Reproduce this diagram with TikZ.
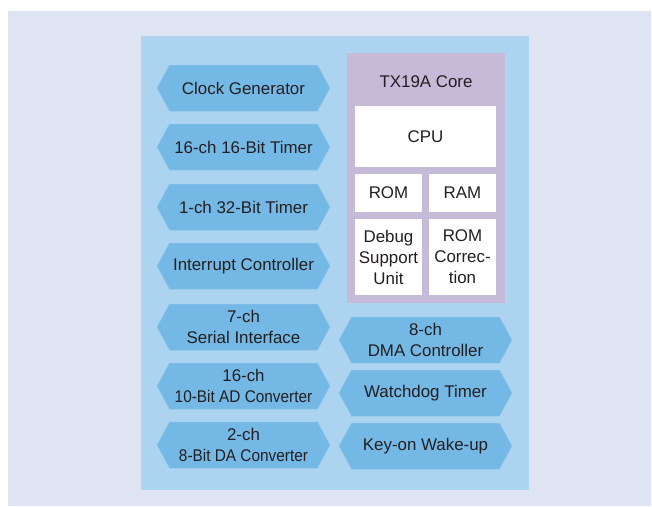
\documentclass[tikz,border=0pt]{standalone}
\usepackage{fontspec}
\setmainfont{Liberation Sans}
\usetikzlibrary{shapes.symbols,positioning}
\definecolor{fondo}{HTML}{DFE4F2}
\definecolor{panel}{HTML}{ACD4F0}
\definecolor{hexazul}{HTML}{74B8E5}
\definecolor{nucleo}{HTML}{C6BAD9}
\definecolor{texto}{HTML}{231F20}
\newcommand\etiq{\fontsize{16.9}{21}\selectfont}
\newcommand\apretado[1]{\scalebox{0.91}[1]{#1}}
\tikzset{
  bloque/.style={shape=signal,signal from=nowhere,signal to=east and west,signal pointer angle=123,
    fill=hexazul,draw=hexazul!80!white,line width=0.5pt,minimum width=173pt,minimum height=46pt,
    inner sep=0pt,align=center,font=\etiq,text=texto},
  caja/.style={fill=white,inner sep=0pt,align=center,font=\etiq,text=texto},
}

\begin{document}
\begin{tikzpicture}[x=1pt,y=-1pt]
  \useasboundingbox (0,0) rectangle (652,506);
  \fill[fondo] (8,11) rectangle (651,506);
  \fill[panel] (141,36) rectangle (529,490);
  % columna izquierda
  \node[bloque] (clk) at (243.5,88) {Clock Generator};
  \node[bloque] (tim16) at (243.5,147) {16-ch 16-Bit Timer};
  \node[bloque] (tim32) at (243.5,207) {1-ch 32-Bit Timer};
  \node[bloque] (intc) at (243.5,266) {Interrupt Controller};
  \node[bloque] (sio) at (243.5,327) {7-ch\\Serial Interface};
  \node[bloque] (adc) at (243.5,386) {16-ch\\\apretado{10-Bit AD Converter}};
  \node[bloque] (dac) at (243.5,445) {2-ch\\\apretado{8-Bit DA Converter}};
  % nucleo
  \node[fill=nucleo,minimum width=158pt,minimum height=250pt,inner sep=0pt] (core) at (426,178) {};
  \node[font=\etiq,text=texto] (titulo) at (426,82) {TX19A Core};
  \node[caja,minimum width=141pt,minimum height=61pt] (cpu) at (425.5,136.5) {CPU};
  \node[caja,minimum width=67pt,minimum height=38pt] (rom) at (388.5,193) {ROM};
  \node[caja,minimum width=67pt,minimum height=38pt] (ram) at (462.5,193) {RAM};
  \node[caja,minimum width=67pt,minimum height=76pt] (dsu) at (388.5,257) {Debug\\Support\\Unit};
  \node[caja,minimum width=67pt,minimum height=76pt] (romc) at (462.5,257) {ROM\\Correc-\\tion};
  % columna derecha
  \node[bloque] (dma) at (425.5,340) {8-ch\\DMA Controller};
  \node[bloque] (wdt) at (425.5,393) {Watchdog Timer};
  \node[bloque] (kwup) at (425.5,446) {Key-on Wake-up};
\end{tikzpicture}
\end{document}
